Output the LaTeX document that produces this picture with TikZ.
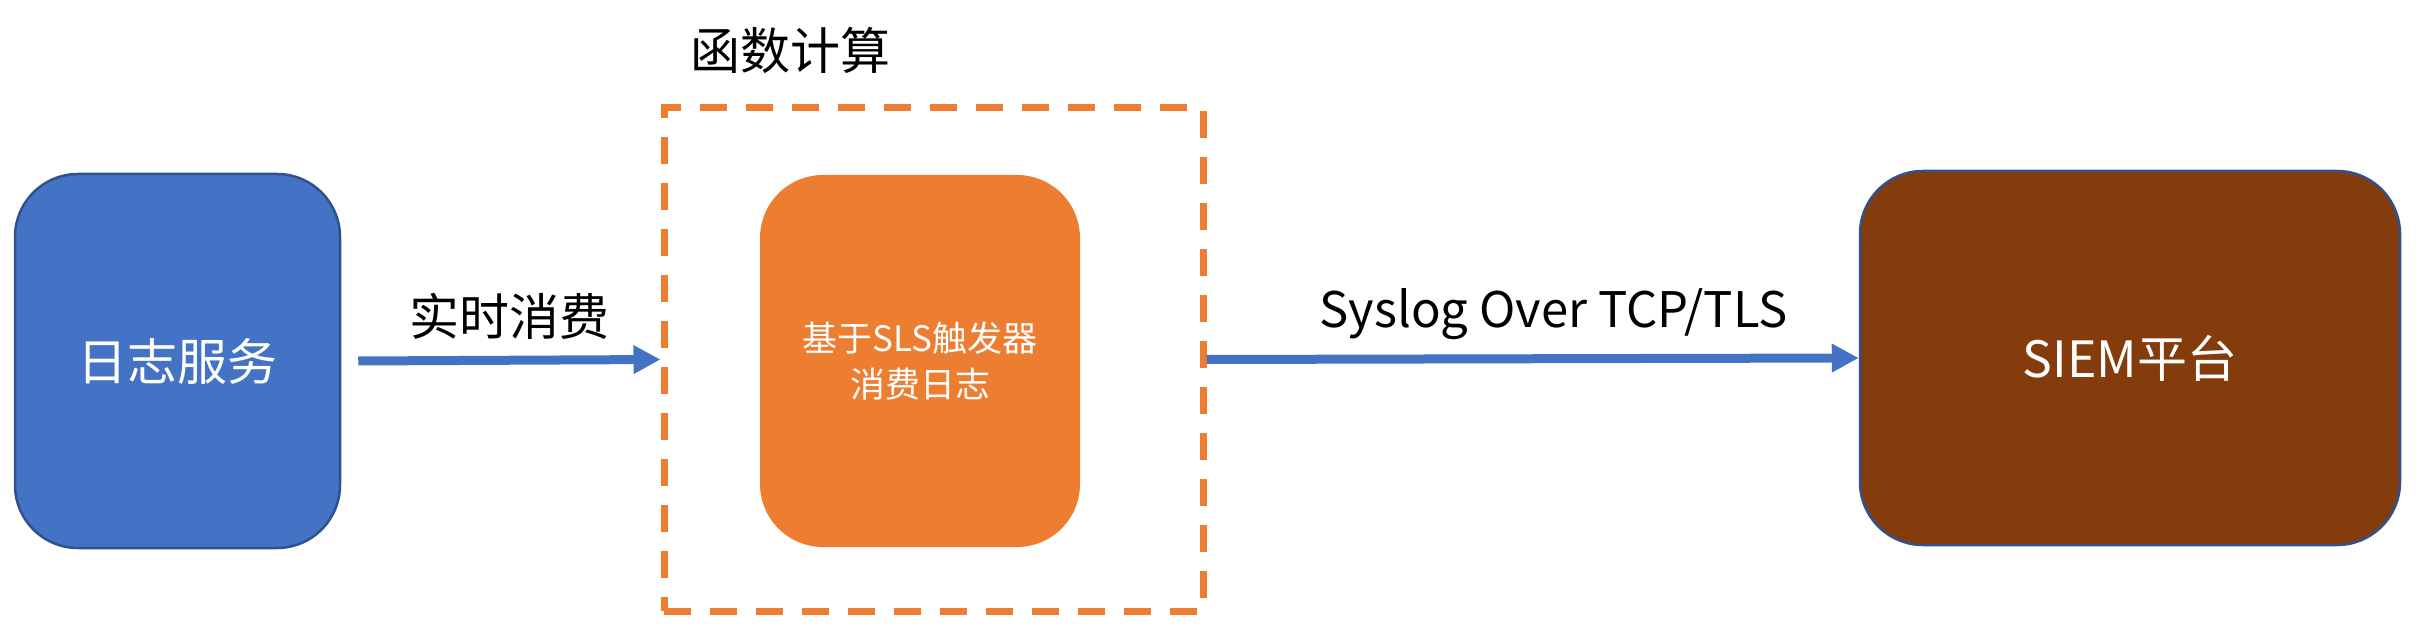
\documentclass[tikz,border=0pt]{standalone}
\usepackage{fontspec}
\setmainfont{Noto Sans CJK SC}
\usetikzlibrary{arrows.meta}
\definecolor{offblue}{HTML}{4472C4}
\definecolor{edgeblue}{HTML}{2F528F}
\definecolor{offorange}{HTML}{ED7D31}
\definecolor{brownfill}{HTML}{843C0C}
\begin{document}
\begin{tikzpicture}[x=1pt,y=-1pt,
  box/.style={rectangle, rounded corners=63pt, inner sep=0pt, text=white, align=center},
  bigfont/.style={font=\fontsize{50pt}{60pt}\selectfont},
  smallfont/.style={font=\fontsize{35pt}{46pt}\selectfont},
  flow/.style={draw=offblue, line width=9pt, -{Triangle[length=27pt,width=27pt]}},
  lbl/.style={bigfont, text=black, inner sep=0pt}]
\useasboundingbox (0,0) rectangle (2418,628);
\node[box, bigfont, fill=offblue, draw=edgeblue, line width=2.5pt,
      minimum width=325pt, minimum height=374pt] (log) at (177.5,361) {日志服务};
\node[draw=offorange, line width=7pt, dash pattern=on 27pt off 19pt,
      minimum width=539pt, minimum height=503pt, inner sep=0pt] (frame) at (933.5,359.5) {};
\node[box, smallfont, fill=offorange, minimum width=320pt, minimum height=372pt] (trig) at (920,361)
      {基于SLS触发器\\消费日志};
\node[box, bigfont, fill=brownfill, draw=edgeblue, line width=2.5pt,
      minimum width=540pt, minimum height=374pt] (siem) at (2130,358) {SIEM平台};
\node[lbl] (title) at (790,50) {函数计算};
\draw[flow] ([xshift=17pt]log.east) -- (frame.west) node[lbl, midway, above=16pt] (l1) {实时消费};
\draw[flow] (frame.east) -- (siem.west) node[lbl, font=\fontsize{49pt}{58pt}\selectfont, midway, above=14pt, xshift=21pt] (l2) {Syslog Over TCP/TLS};
\end{tikzpicture}
\end{document}
